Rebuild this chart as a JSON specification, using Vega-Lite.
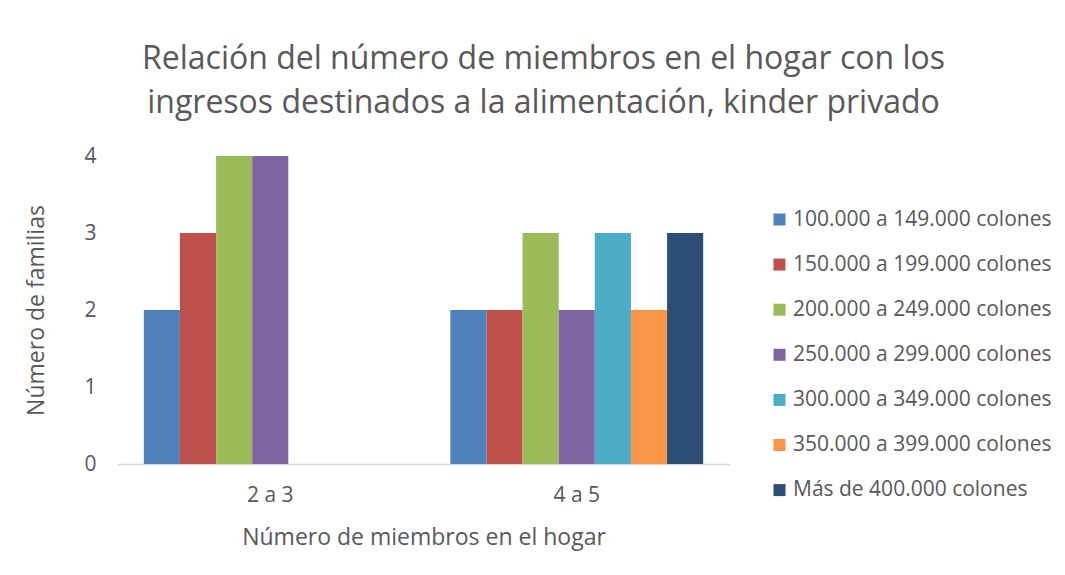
{
  "$schema": "https://vega.github.io/schema/vega-lite/v6.json",
  "width": 613,
  "height": 308,
  "autosize": "none",
  "padding": {"left": 117, "top": 156, "right": 335, "bottom": 111},
  "background": "white",
  "config": {
    "font": "Open Sans",
    "view": {"stroke": null}
  },
  "title": {
    "text": ["Relación del número de miembros en el hogar con los", "ingresos destinados a la alimentación, kinder privado"],
    "fontSize": 32,
    "font": "Open Sans",
    "fontWeight": "normal",
    "color": "#595959",
    "anchor": "middle",
    "dx": 120,
    "offset": 25,
    "lineHeight": 44
  },
  "data": {
    "values": [
      {"miembros": "2 a 3", "ingreso": "100.000 a 149.000 colones", "familias": 2},
      {"miembros": "2 a 3", "ingreso": "150.000 a 199.000 colones", "familias": 3},
      {"miembros": "2 a 3", "ingreso": "200.000 a 249.000 colones", "familias": 4},
      {"miembros": "2 a 3", "ingreso": "250.000 a 299.000 colones", "familias": 4},
      {"miembros": "4 a 5", "ingreso": "100.000 a 149.000 colones", "familias": 2},
      {"miembros": "4 a 5", "ingreso": "150.000 a 199.000 colones", "familias": 2},
      {"miembros": "4 a 5", "ingreso": "200.000 a 249.000 colones", "familias": 3},
      {"miembros": "4 a 5", "ingreso": "250.000 a 299.000 colones", "familias": 2},
      {"miembros": "4 a 5", "ingreso": "300.000 a 349.000 colones", "familias": 3},
      {"miembros": "4 a 5", "ingreso": "350.000 a 399.000 colones", "familias": 2},
      {"miembros": "4 a 5", "ingreso": "Más de 400.000 colones", "familias": 3}
    ]
  },
  "mark": {"type": "bar"},
  "encoding": {
    "x": {
      "field": "miembros",
      "type": "nominal",
      "scale": {"paddingInner": 0.175, "paddingOuter": 0.0875},
      "axis": {
        "title": "Número de miembros en el hogar",
        "titleFontSize": 23,
        "titleFontWeight": "normal",
        "titleColor": "#595959",
        "titlePadding": 21,
        "labelAngle": 0,
        "labelFontSize": 21,
        "labelColor": "#595959",
        "labelPadding": 20,
        "ticks": false,
        "domainColor": "#d9d9d9",
        "domainWidth": 1.5
      }
    },
    "xOffset": {
      "field": "ingreso",
      "type": "nominal",
      "scale": {"paddingInner": 0, "paddingOuter": 0}
    },
    "y": {
      "field": "familias",
      "type": "quantitative",
      "scale": {"domain": [0, 4]},
      "axis": {
        "title": "Número de familias",
        "titleFontSize": 23,
        "titleFontWeight": "normal",
        "titleColor": "#595959",
        "titlePadding": 35,
        "values": [0, 1, 2, 3, 4],
        "labelFontSize": 21,
        "labelColor": "#595959",
        "labelPadding": 21,
        "ticks": false,
        "domain": false,
        "grid": false
      }
    },
    "color": {
      "field": "ingreso",
      "type": "nominal",
      "scale": {
        "domain": ["100.000 a 149.000 colones", "150.000 a 199.000 colones", "200.000 a 249.000 colones", "250.000 a 299.000 colones", "300.000 a 349.000 colones", "350.000 a 399.000 colones", "Más de 400.000 colones"],
        "range": ["#4F81BD", "#C0504D", "#9BBB59", "#8064A2", "#4BACC6", "#F79646", "#2C4D75"]
      },
      "legend": {
        "title": null,
        "orient": "none",
        "legendX": 652,
        "legendY": 53,
        "symbolType": "square",
        "symbolSize": 144,
        "symbolStrokeWidth": 0,
        "labelFontSize": 21,
        "labelColor": "#595959",
        "labelOffset": 3,
        "rowPadding": 23.1,
        "labelLimit": 400
      }
    }
  }
}
